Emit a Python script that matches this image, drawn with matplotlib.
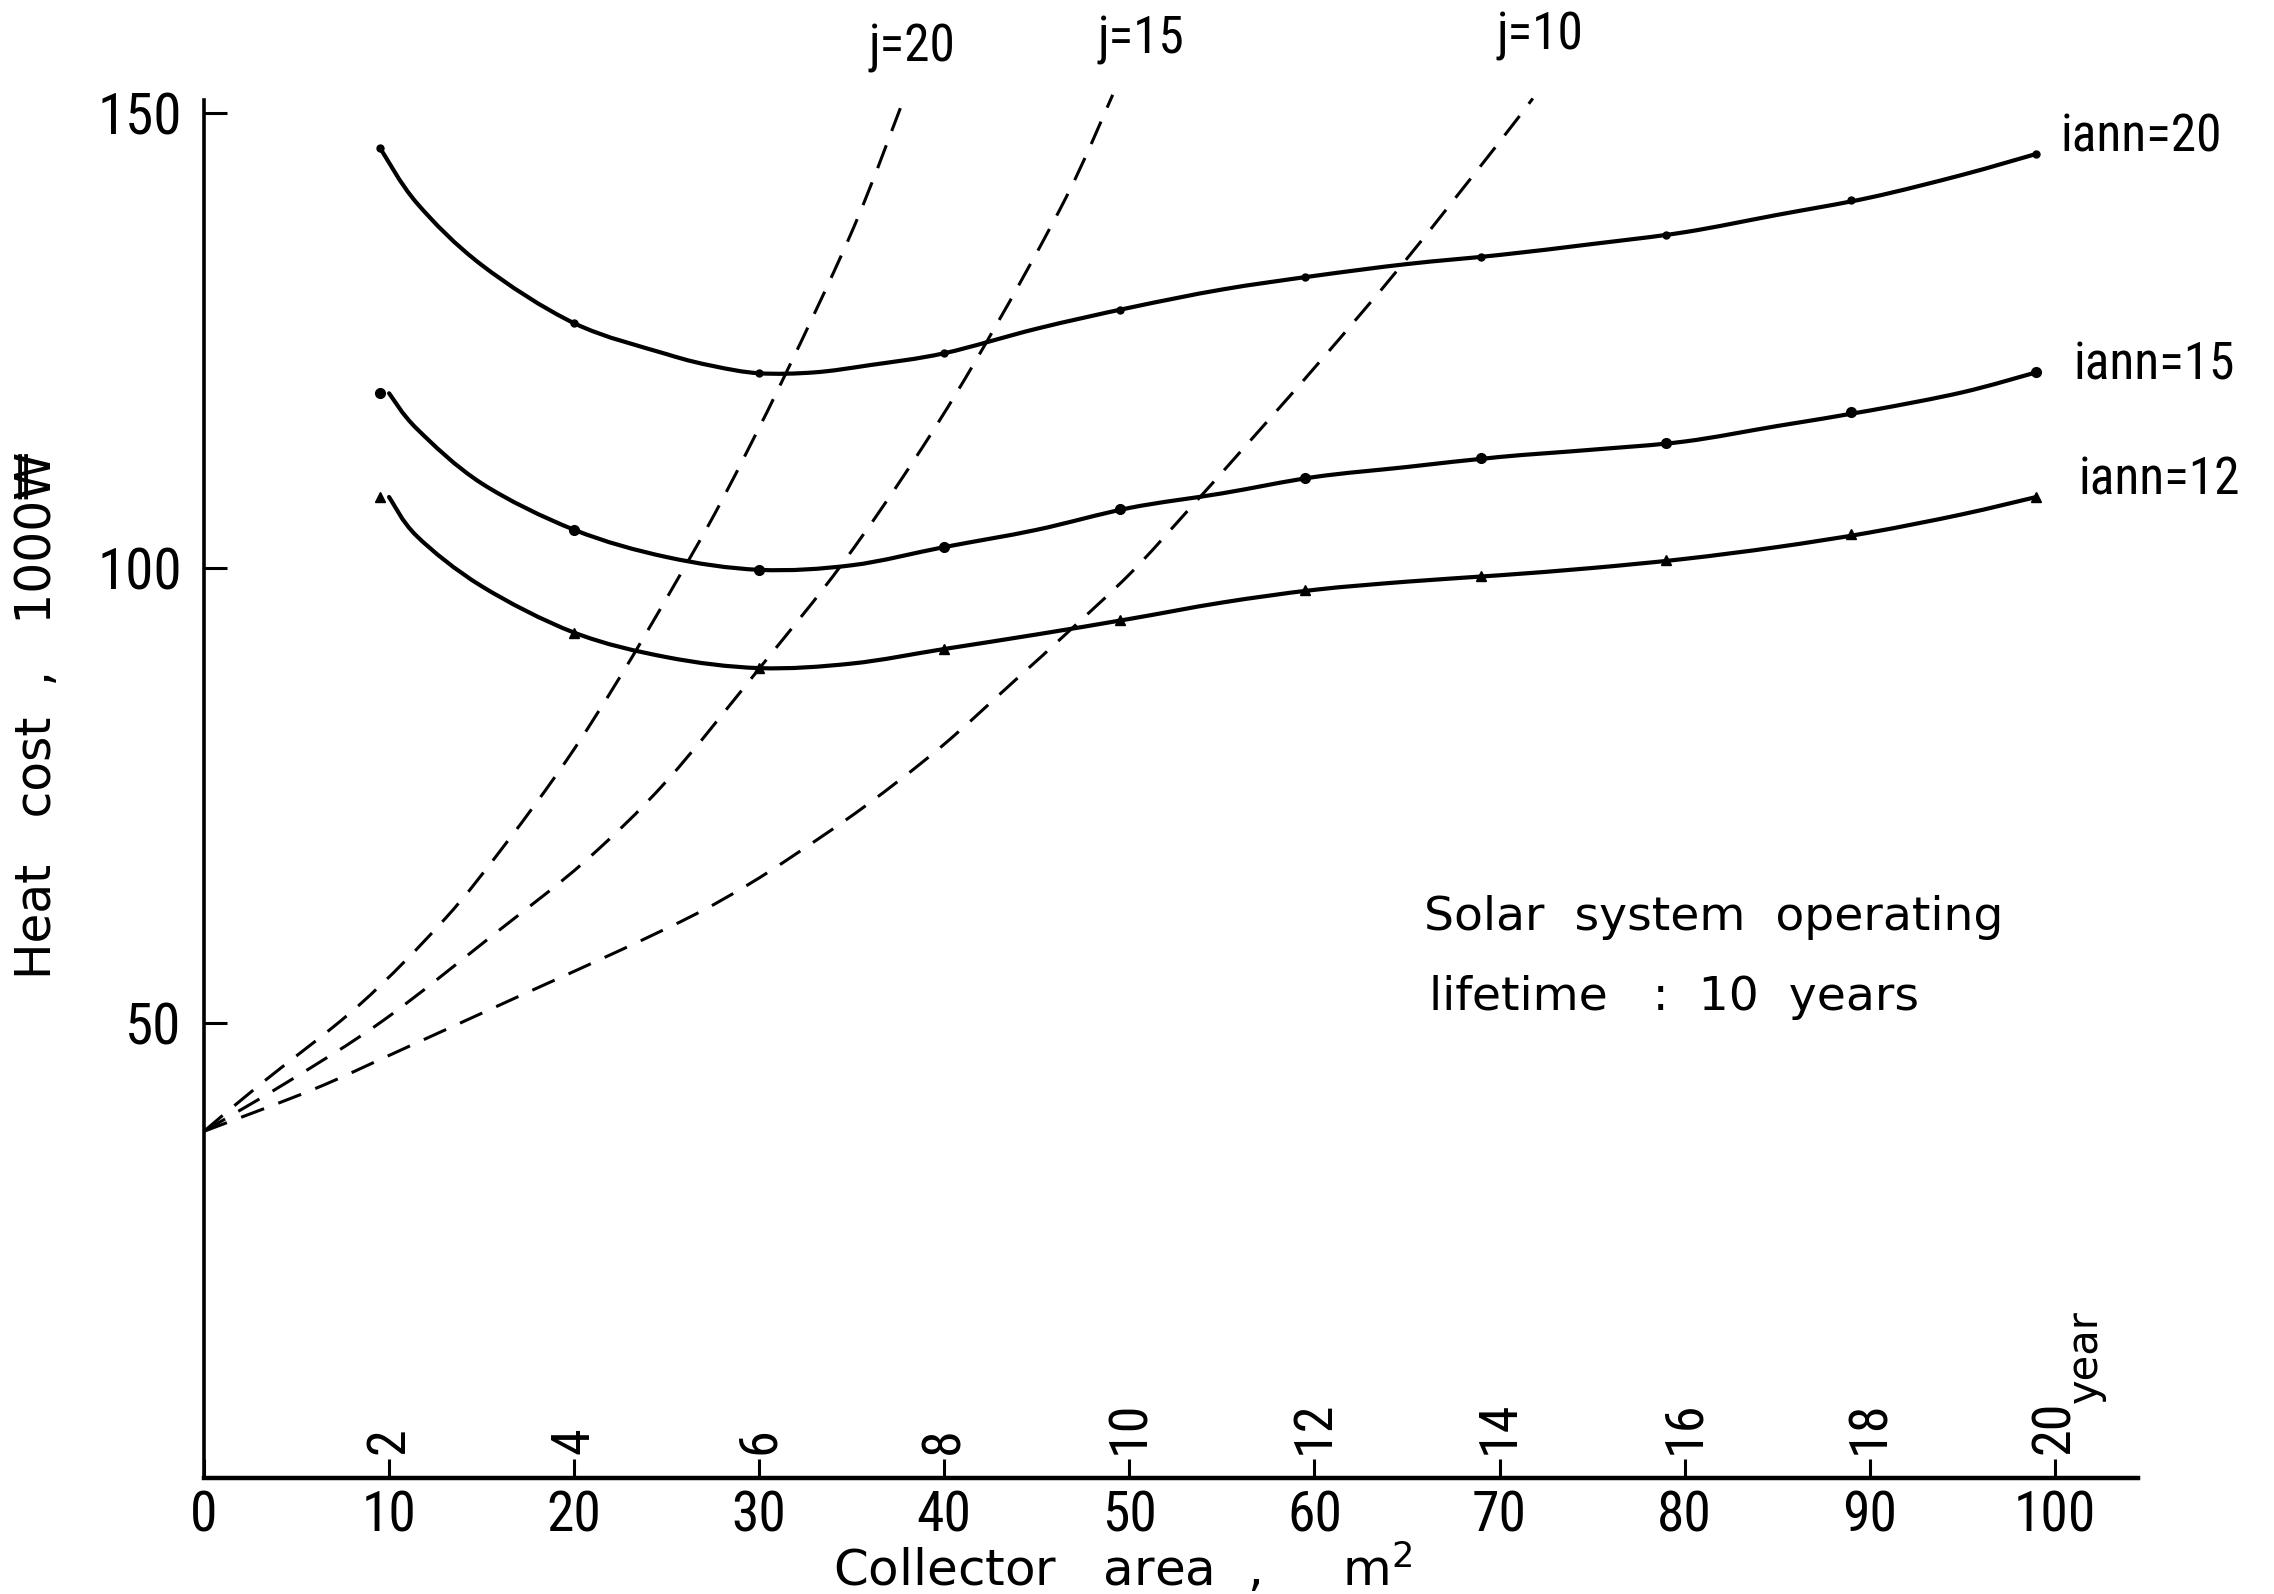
import numpy as np
import matplotlib
matplotlib.use("Agg")
import matplotlib.pyplot as plt
from matplotlib import font_manager
from matplotlib.path import Path
from matplotlib.patches import PathPatch

# ---------------- data ----------------
# x positions of the plotted points (collector area, m2)
mark_x = [9.5, 20, 30, 40, 49.5, 59.5, 69, 79, 89, 99]
iann20_marks = [146.2, 126.9, 121.4, 123.6, 128.4, 132.0, 134.2, 136.6, 140.4, 145.5]
iann15_marks = [119.2, 104.2, 99.8, 102.3, 106.5, 109.9, 112.1, 113.7, 117.1, 121.5]
iann12_marks = [107.8, 92.9, 89.0, 91.1, 94.3, 97.6, 99.1, 100.9, 103.7, 107.8]

# traced solid curves
iann20_x = [9.5, 11.5, 15, 20, 25, 27.5, 30, 33, 36, 40, 45, 50, 55, 60, 65, 70, 75, 80, 85, 90, 95, 99]
iann20_y = [146.2, 140.1, 133.3, 126.9, 123.5, 122.2, 121.4, 121.5, 122.3, 123.6, 126.3, 128.6,
            130.6, 132.1, 133.4, 134.4, 135.6, 136.9, 138.8, 140.7, 143.2, 145.5]
iann15_x = [10, 11.5, 15, 20, 25, 30, 35, 40, 45, 50, 55, 60, 65, 70, 75, 80, 85, 90, 95, 99]
iann15_y = [119.2, 115.3, 109.3, 104.2, 101.2, 99.8, 100.3, 102.3, 104.2, 106.6, 108.2, 110.0,
            111.1, 112.2, 113.0, 113.9, 115.6, 117.3, 119.3, 121.5]
iann12_x = [10, 11.5, 15, 20, 25, 30, 35, 40, 45, 50, 55, 60, 65, 70, 75, 80, 85, 90, 95, 99]
iann12_y = [107.8, 103.5, 98.0, 92.9, 90.2, 89.0, 89.5, 91.1, 92.7, 94.4, 96.2, 97.6,
            98.5, 99.2, 100.0, 101.0, 102.3, 103.9, 105.9, 107.8]

# dashed curves
j20_x = [0, 3, 8.4, 13, 16.3, 19.6, 22.5, 25.6, 28, 31.3, 35.1, 37.9]
j20_y = [38.1, 43.2, 52, 61.4, 69.7, 78.9, 88.1, 98.8, 107.5, 120.8, 137.4, 152]
j15_x = [0, 4.5, 9.7, 15.7, 20.6, 25.0, 30.1, 34.5, 38.8, 42.5, 46.6, 49.1]
j15_y = [38.1, 43.5, 50.3, 59.8, 67.8, 76.6, 89.2, 100.5, 113.2, 125.6, 140.8, 152]
j10_x = [0, 5.9, 10.5, 17.3, 22.5, 26.6, 29.4, 32, 35.7, 39.8, 43.9, 46.6, 50.1, 53.2,
         56.1, 60.3, 64.8, 69.8, 71.8]
j10_y = [38.1, 42.7, 46.9, 53.2, 58.0, 62.0, 65.2, 68.6, 73.8, 80.3, 87.8, 92.8, 99.5,
         106.4, 113.0, 122.7, 133.5, 146.3, 151.6]

x_ticks = [0, 10, 20, 30, 40, 50, 60, 70, 80, 90, 100]
x_tick_labels = ["0", "10", "20", "30", "40", "50", "60", "70", "80", "90", "100"]
y_ticks = [50, 100, 150]
y_tick_labels = ["50", "100", "150"]
year_pos = [10, 20, 30, 40, 50, 60, 70, 80, 90, 100]
year_labels = ["2", "4", "6", "8", "10", "12", "14", "16", "18", "20"]

# ---------------- fonts ----------------
entries = font_manager.fontManager.ttflist
names = {f.name for f in entries}
NARROW_KW = {"family": "Liberation Sans"}
if "Liberation Sans Narrow" in names:
    NARROW_KW = {"family": "Liberation Sans Narrow"}
elif "Roboto Condensed" in names:
    NARROW_KW = {"family": "Roboto Condensed"}
elif any(f.name == "DejaVu Sans" and f.stretch == "condensed" for f in entries):
    NARROW_KW = {"family": "DejaVu Sans", "stretch": "condensed"}
NARROW = NARROW_KW["family"]
SANS = ["DejaVu Sans"]


def smooth_path(xs, ys):
    """Catmull-Rom curve through the given points, drawn as cubic Bezier segments."""
    pts = np.column_stack([xs, ys]).astype(float)
    verts = [pts[0]]
    codes = [Path.MOVETO]
    n = len(pts)
    for i in range(n - 1):
        p0 = pts[i - 1] if i > 0 else pts[i]
        p1 = pts[i]
        p2 = pts[i + 1]
        p3 = pts[i + 2] if i + 2 < n else pts[i + 1]
        verts += [p1 + (p2 - p0) / 6.0, p2 - (p3 - p1) / 6.0, p2]
        codes += [Path.CURVE4] * 3
    return Path(verts, codes)


fig = plt.figure(figsize=(22.74, 15.94), dpi=100)
ax = fig.add_axes([204 / 2274, 116 / 1594, 1934 / 2274, 1456 / 1594])
ax.set_xlim(0, 104.5)
ax.set_ylim(0, 160)

for s in ("top", "right"):
    ax.spines[s].set_visible(False)
ax.spines["left"].set_bounds(0, 151.4)
ax.spines["left"].set_linewidth(2.6)
ax.spines["bottom"].set_linewidth(3.2)

ax.set_yticks(y_ticks)
ax.set_yticklabels(y_tick_labels)
ax.set_xticks(x_ticks)
ax.set_xticklabels(x_tick_labels)
ax.tick_params(axis="y", direction="in", length=16.5, width=2.2, pad=16, labelsize=41)
ax.tick_params(axis="x", direction="in", length=14, width=2.2, pad=8, labelsize=40)
for lab in ax.get_xticklabels() + ax.get_yticklabels():
    lab.set_fontfamily(NARROW)
    if "stretch" in NARROW_KW:
        lab.set_fontstretch(NARROW_KW["stretch"])

# solid curves
for cx, cy in ((iann20_x, iann20_y), (iann15_x, iann15_y), (iann12_x, iann12_y)):
    ax.add_patch(PathPatch(smooth_path(cx, cy), fill=False, ec="black", lw=3.0,
                           capstyle="round", joinstyle="round", clip_on=False))
ax.plot(mark_x, iann20_marks, ls="none", marker="o", ms=5, color="black", clip_on=False)
ax.plot(mark_x, iann15_marks, ls="none", marker="o", ms=7, color="black", clip_on=False)
ax.plot(mark_x, iann12_marks, ls="none", marker="^", ms=7.5, color="black", clip_on=False)

# dashed curves
for cx, cy in ((j20_x, j20_y), (j15_x, j15_y), (j10_x, j10_y)):
    ax.add_patch(PathPatch(smooth_path(cx, cy), fill=False, ec="black", lw=2.2,
                           linestyle=(0, (8, 5)), clip_on=False))

# curve labels
lab_kw = dict(fontsize=37, clip_on=False, **NARROW_KW)
ax.text(38.25, 157.1, "j=20", ha="center", va="center", **lab_kw)
ax.text(50.6, 158.0, "j=15", ha="center", va="center", **lab_kw)
ax.text(72.2, 158.5, "j=10", ha="center", va="center", **lab_kw)
ax.text(100.3, 147.3, "iann=20", ha="left", va="center", **lab_kw)
ax.text(101.0, 122.2, "iann=15", ha="left", va="center", **lab_kw)
ax.text(101.3, 109.6, "iann=12", ha="left", va="center", **lab_kw)

# year scale
for xp, yl in zip(year_pos, year_labels):
    ax.text(xp, 2.6, yl, rotation=90, ha="center", va="bottom", fontsize=39, **NARROW_KW)
ax.text(101.6, 8.2, "year", rotation=90, ha="center", va="bottom", fontsize=30, family=SANS)

# annotation
ax.text(65.9, 60.2, "Solar  system  operating", ha="left", va="baseline", fontsize=34, family=SANS)
ax.text(66.2, 51.4, "lifetime   :  10  years", ha="left", va="baseline", fontsize=34, family=SANS)

# axis titles
ax.text(34.0, -11.9, "Collector   area  ,     m$^2$", ha="left", va="baseline", fontsize=36,
        family=SANS, clip_on=False)
ax.text(-9.0, 83.8, "Heat   cost  ,   1000\u20a9", rotation=90, ha="center", va="center",
        fontsize=35, family=SANS, clip_on=False)

fig.savefig("out.png", dpi=100)
